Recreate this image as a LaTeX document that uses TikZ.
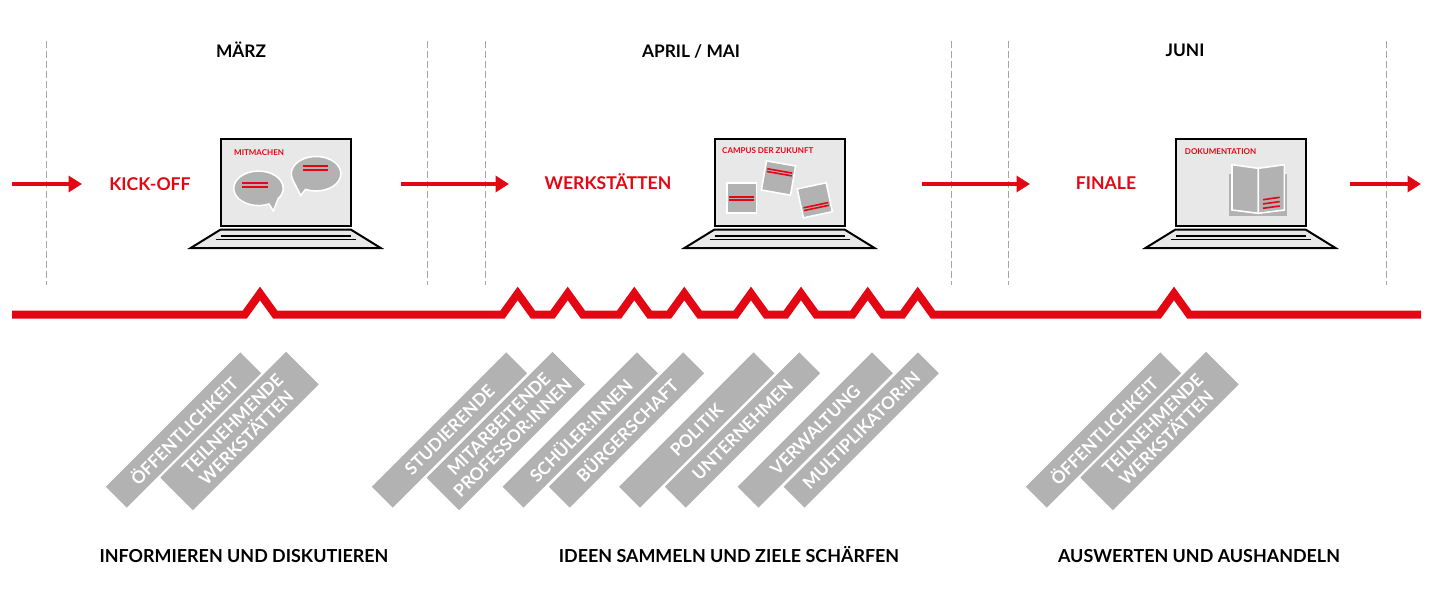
\documentclass[tikz,border=0pt]{standalone}
\usepackage{fontspec}
\setmainfont{Lato}
\usepackage{tikz}
\usetikzlibrary{arrows.meta}
\definecolor{ibared}{HTML}{E30613}
\definecolor{barfill}{HTML}{B2B2B2}
\definecolor{screenfill}{HTML}{E8E8E8}
\definecolor{guidegray}{HTML}{A6A6A6}

\begin{document}
\begin{tikzpicture}[
    x=1pt, y=-1pt,
    month/.style={anchor=base, inner sep=0pt, font=\fontsize{17.3}{18}\selectfont\bfseries},
    phase/.style={anchor=base, inner sep=0pt, font=\fontsize{17.6}{18}\selectfont\bfseries, text=ibared},
    goal/.style={anchor=base, inner sep=0pt, font=\fontsize{17.9}{18}\selectfont\bfseries},
    screenlbl/.style={font=\fontsize{8}{9}\selectfont\bfseries, text=ibared, anchor=west, inner sep=0pt},
    tag/.style={fill=barfill, text=white, rotate=45, minimum width=190pt, minimum height=29.5pt,
                align=center, inner sep=0pt, font=\fontsize{17.3}{19.5}\selectfont\bfseries},
    tagwide/.style={tag, minimum width=178pt, minimum height=46pt},
    guide/.style={guidegray, line width=1pt, dash pattern=on 6.5pt off 3.5pt},
    flow/.style={ibared, line width=3.8pt, -{Triangle[length=13.5pt,width=16pt]}},
    redline/.style={ibared, line width=1.6pt},
    item/.style={barfill, draw=white, line width=1.6pt, line join=miter},
    pics/laptop/.style={code={
        \draw[black, line width=2pt, fill=screenfill] (-65,138.5) rectangle (65,226);
        \draw[black, line width=2pt, fill=screenfill] (-65,229.5) -- (65,229.5) -- (95,248) -- (-95,248) -- cycle;
        \draw[black, line width=1.5pt] (-65,236) -- (65,236);
        \draw[black, line width=1.5pt] (-70,239.5) -- (70,239.5);
    }},
    pics/note/.style={code={
        \filldraw[item, fill=barfill] (-14.8,-14.8) rectangle (14.8,14.8);
    }}
]
\useasboundingbox (0,0) rectangle (1440,605);

% --- Guides ---
\foreach \gx in {46,427,485,951,1008,1386}
    \draw[guide] (\gx,41) -- (\gx,285);

% --- Month headers ---
\node[month] (maerz) at (241,57) {MÄRZ};
\node[month] (aprilmai) at (691,57) {APRIL / MAI};
\node[month] (juni) at (1185,56) {JUNI};

% --- Phases ---
\node[phase] (kickoff) at (150,190) {KICK-OFF};
\node[phase] (werkstaetten) at (608,189.5) {WERKSTÄTTEN};
\node[phase] (finale) at (1106,189.5) {FINALE};

% --- Arrows ---
\coordinate (a1) at (12,184);   \coordinate (b1) at (82,184);
\coordinate (a2) at (401,184);  \coordinate (b2) at (509,184);
\coordinate (a3) at (922,184);  \coordinate (b3) at (1030,184);
\coordinate (a4) at (1350,184); \coordinate (b4) at (1421,184);
\foreach \i in {1,2,3,4}
    \draw[flow] (a\i) -- (b\i);

% --- Laptops ---
\pic at (285.7,0) {laptop};
\pic at (779.5,0) {laptop};
\pic at (1240.5,0) {laptop};

% --- Screen one: speech bubbles ---
\node[screenlbl] (mitmachen) at (234,152.3) {MITMACHEN};
\filldraw[item] (278.4,198) -- (273.3,211) -- (269,204) arc[start angle=65, end angle=395, x radius=24.8, y radius=17.3] -- cycle;
\filldraw[item] (292.7,179.8) -- (300.7,195.5) -- (305.6,189.4) arc[start angle=115, end angle=-200, x radius=24.8, y radius=17.3] -- cycle;
\foreach \ly in {182.7,187}
    \draw[redline] (242.3,\ly) -- (267.7,\ly);
\foreach \ly in {165.7,170}
    \draw[redline] (303.3,\ly) -- (328,\ly);

% --- Screen two: notes ---
\node[screenlbl] (campus) at (722,150.3) {CAMPUS DER ZUKUNFT};
\begin{scope}[shift={(741.5,198)}]
    \pic {note};
    \draw[redline] (-12.7,-1.2) -- (12.7,-1.2);
    \draw[redline] (-12.7,1.7) -- (12.7,1.7);
\end{scope}
\begin{scope}[shift={(778.5,178)}, rotate=-10]
    \pic[transform shape] {note};
    \draw[redline] (-12.7,-7.2) -- (12.7,-7.2);
    \draw[redline] (-12.7,-4.4) -- (12.7,-4.4);
\end{scope}
\begin{scope}[shift={(814.8,200.3)}, rotate=12]
    \pic[transform shape] {note};
    \draw[redline] (-12.7,5) -- (12.7,5);
    \draw[redline] (-12.7,7.8) -- (12.7,7.8);
\end{scope}

% --- Screen three: booklet ---
\node[screenlbl] (doku) at (1184.7,151.7) {DOKUMENTATION};
\fill[barfill] (1229.3,174) rectangle (1287,215.7);
\filldraw[item] (1232,164.7) -- (1258.3,168.3) -- (1258.3,213.3) -- (1232,210) -- cycle;
\filldraw[item] (1284.3,164.7) -- (1258.3,168.3) -- (1258.3,213.3) -- (1284.3,210) -- cycle;
\draw[redline] (1263,199.7) -- (1279.7,197.3);
\draw[redline] (1263,203.9) -- (1279.7,201.6);
\draw[redline] (1263,208.3) -- (1279.7,206);

% --- Timeline ---
\draw[ibared, line width=8pt, line join=miter, miter limit=10] (12,314.7)
    \foreach \px in {260,517.7,567.7,634.3,684.3,751,801,867.7,917.7,1174}
        { -- ({\px-15.3},314.7) -- (\px,293.5) -- ({\px+15.3},314.7) }
    -- (1421,314.7);

% --- Tags ---
\node[tag] (oeff1) at (183.5,430) {ÖFFENTLICHKEIT};
\node[tagwide] (teil1) at (239.5,431) {TEILNEHMENDE\\WERKSTÄTTEN};
\node[tag] (studierende) at (449.5,430) {STUDIERENDE};
\node[tagwide] (mitarbeitende) at (505.8,431) {MITARBEITENDE\\PROFESSOR:INNEN};
\node[tag] (schueler) at (580.3,430) {SCHÜLER:INNEN};
\node[tag] (buerger) at (626.5,430) {BÜRGERSCHAFT};
\node[tag] (politik) at (696.7,430) {POLITIK};
\node[tag] (unternehmen) at (742.5,430) {UNTERNEHMEN};
\node[tag] (verwaltung) at (815.3,430) {VERWALTUNG};
\node[tag] (multi) at (861.3,430) {MULTIPLIKATOR:IN};
\node[tag] (oeff2) at (1103.5,430) {ÖFFENTLICHKEIT};
\node[tagwide] (teil2) at (1159.5,431) {TEILNEHMENDE\\WERKSTÄTTEN};

% --- Goals ---
\node[goal] (informieren) at (244,562) {INFORMIEREN UND DISKUTIEREN};
\node[goal] (ideen) at (729,562) {IDEEN SAMMELN UND ZIELE SCHÄRFEN};
\node[goal] (auswerten) at (1199,562) {AUSWERTEN UND AUSHANDELN};

\end{tikzpicture}
\end{document}
